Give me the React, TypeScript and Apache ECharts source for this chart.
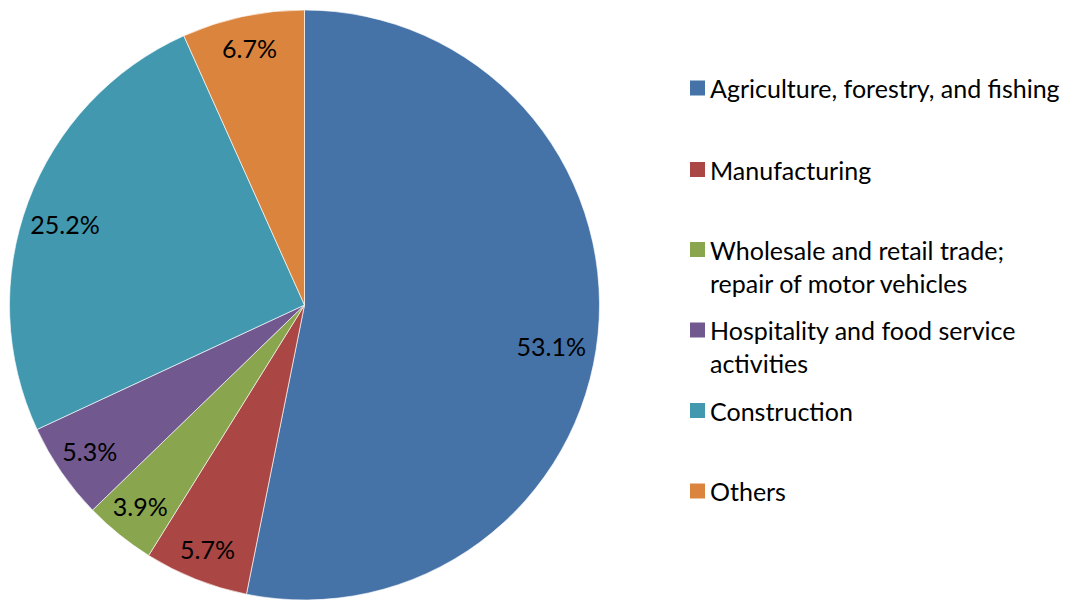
import React, { useEffect, useRef } from "react";
import * as echarts from "echarts";

const categories = [
  "Agriculture, forestry, and fishing",
  "Manufacturing",
  "Wholesale and retail trade;\nrepair of motor vehicles",
  "Hospitality and food service\nactivities",
  "Construction",
  "Others",
];
const shares = [53.1, 5.7, 3.9, 5.3, 25.2, 6.7];
const colors = ["#4572A7", "#AA4643", "#89A54E", "#71588F", "#4198AF", "#DB843D"];

const FONT = "Lato";
const FS = 25;

export default function App() {
  const ref = useRef<HTMLDivElement>(null);
  useEffect(() => {
    if (!ref.current) return;
    const chart = echarts.init(ref.current, undefined, { renderer: "svg" });
    const data = categories.map((name, i) => ({
      name,
      value: shares[i],
      itemStyle: { color: colors[i] },
    }));
    const legendTops = [71.5, 153, 233, 313.5, 394, 474.5];
    const legends = categories.map((name, i) => {
      const twoLine = name.indexOf("\n") >= 0;
      return {
        data: [name],
        left: 690,
        top: legendTops[i],
        orient: "vertical",
        padding: 0,
        itemWidth: 15,
        itemHeight: twoLine ? 48 : 15,
        icon: twoLine ? "path://M0 0H15V15H0Z M0 47.9H0.1V48H0Z" : "rect",
        symbolKeepAspect: false,
        selectedMode: false,
        itemStyle: { borderWidth: 0 },
        textStyle: {
          fontFamily: FONT,
          fontSize: FS,
          color: "#000",
          lineHeight: 33,
        },
      };
    });
    const labelOffsets: Record<number, [number, number]> = { 0: [-15, 15], 2: [1, -4], 3: [2, -3], 4: [7, 11] };
    chart.setOption({
      animation: false,
      legend: legends,
      series: [
        {
          type: "pie",
          center: [304.5, 305],
          radius: [0, 295],
          startAngle: 90,
          clockwise: true,
          label: { show: false },
          labelLine: { show: false },
          itemStyle: { borderColor: "rgba(255,255,255,0.8)", borderWidth: 0.8 },
          emphasis: { disabled: true },
          silent: true,
          data,
        },
        {
          type: "pie",
          center: [304.5, 305],
          radius: [225, 295],
          startAngle: 90,
          clockwise: true,
          silent: true,
          emphasis: { disabled: true },
          itemStyle: { color: "transparent", borderWidth: 0 },
          labelLine: { show: false },
          label: {
            show: true,
            position: "inside",
            formatter: (p: any) => p.value.toFixed(1) + "%",
            fontFamily: FONT,
            fontSize: FS,
            color: "#000",
          },
          labelLayout: (p: any) => {
            const o = labelOffsets[p.dataIndex];
            return o ? { dx: o[0], dy: o[1] } : {};
          },
          data: categories.map((name, i) => ({ name, value: shares[i] })),
        },
      ],
    });
    return () => chart.dispose();
  }, []);
  return (
    <div
      ref={ref}
      style={{ position: "fixed", left: 0, top: 0, width: 1070, height: 601, background: "#fff" }}
    />
  );
}
